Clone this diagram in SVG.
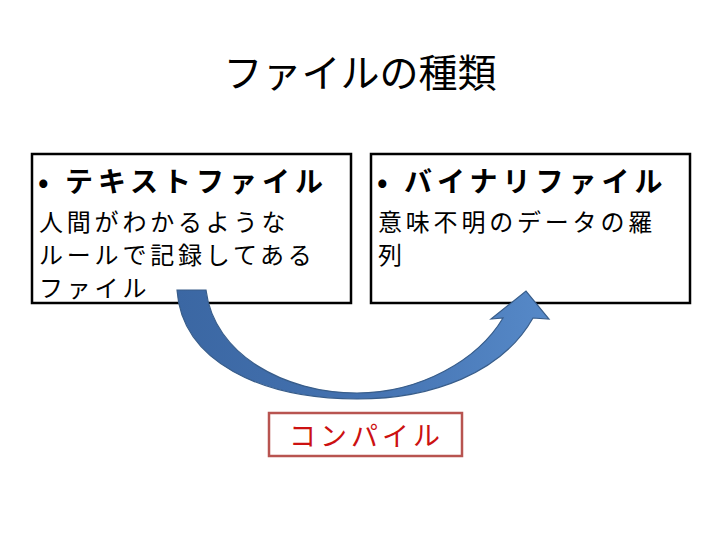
<svg xmlns="http://www.w3.org/2000/svg" width="720" height="540" viewBox="0 0 720 540">
<style>
text{font-family:"Noto Sans CJK JP","Noto Sans",sans-serif;fill:#000}
.box{fill:#fff;stroke:#000;stroke-width:2.5}
.hd{font-size:28px;font-weight:bold;letter-spacing:5px}
.bd{font-size:24px;letter-spacing:3.8px}
</style>
<defs>
<linearGradient id="g" x1="0" y1="0" x2="1" y2="0">
<stop offset="0" stop-color="#3b67a3"/>
<stop offset="0.5" stop-color="#4472b0"/>
<stop offset="1" stop-color="#5689c8"/>
</linearGradient>
</defs>
<rect width="720" height="540" fill="#fff"/>
<text x="360" y="87" font-size="39" text-anchor="middle">ファイルの種類</text>
<g id="text-file">
<rect class="box" x="32" y="154" width="319" height="149"/>
<text class="hd" x="38" y="192">• テキストファイル</text>
<text class="bd" x="39" y="231">人間がわかるような</text>
<text class="bd" x="39" y="264">ルールで記録してある</text>
<text class="bd" x="39" y="297">ファイル</text>
</g>
<g id="binary-file">
<rect class="box" x="371" y="154" width="319" height="149"/>
<text class="hd" x="377" y="192">• バイナリファイル</text>
<text class="bd" x="378" y="231">意味不明のデータの羅</text>
<text class="bd" x="378" y="264">列</text>
</g>
<g id="connectors">
<path d="M177,290 L206,290 C214,355 285,393 357,393 C420,393 478,360 503,318 L491,319 L526,291 L549,319 L533,318 C502,373 432,399 357,399 C262,399 182,362 177,290 Z" fill="url(#g)" stroke="#385d8a" stroke-width="1.2" stroke-linejoin="miter"/>
</g>
<g id="compile">
<rect x="269" y="413" width="193" height="43" fill="#fff" stroke="#b85450" stroke-width="2.5"/>
<text x="289" y="446" font-size="27" letter-spacing="4" style="fill:#cc1111">コンパイル</text>
</g>
</svg>
